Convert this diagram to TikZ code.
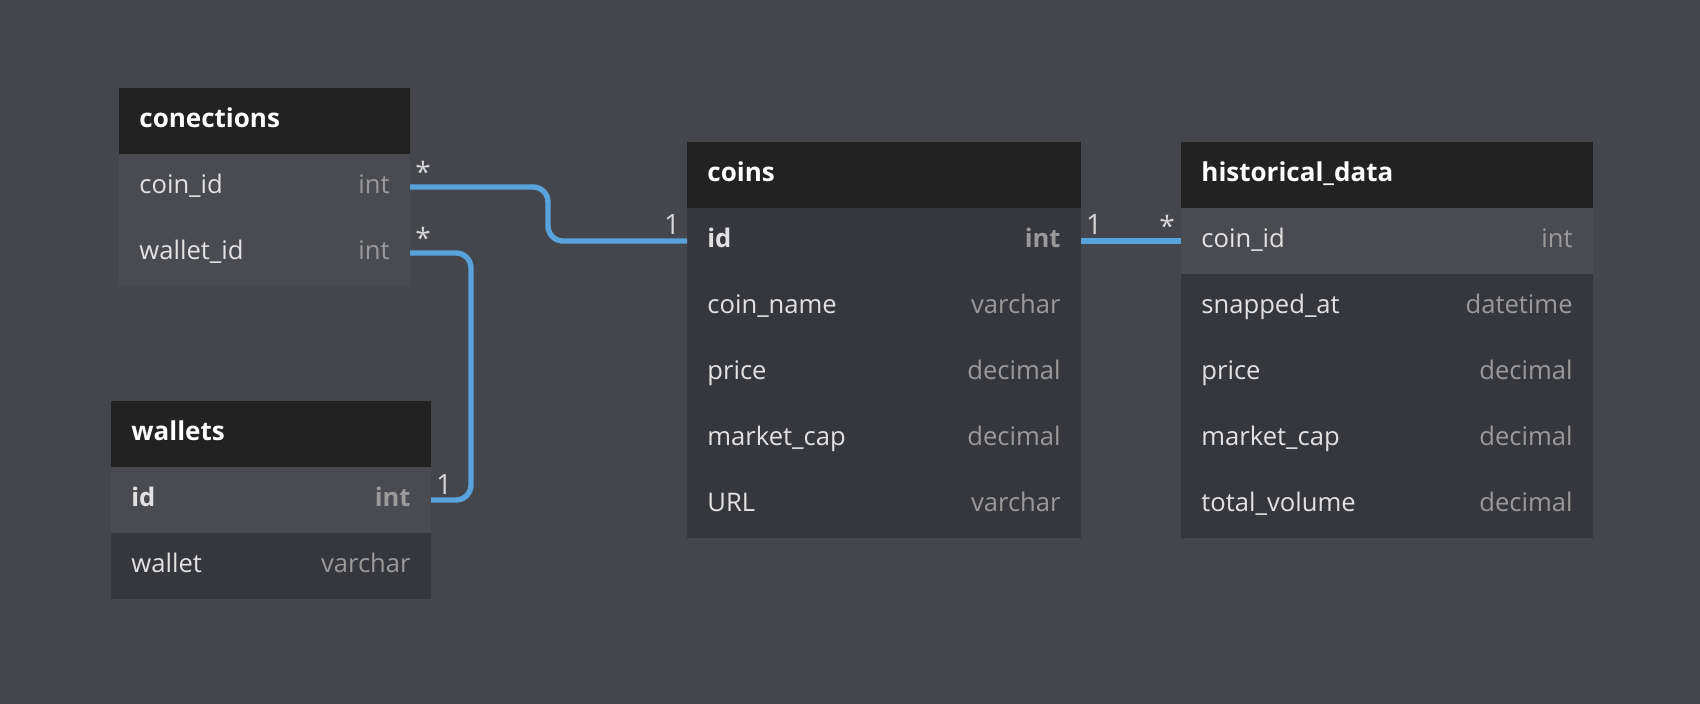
\documentclass[tikz,border=0pt]{standalone}
\usepackage{fontspec}
\setmainfont{Open Sans}
\usetikzlibrary{positioning}

\definecolor{canvas}{HTML}{45464C}
\definecolor{headcol}{HTML}{222222}
\definecolor{rowlight}{HTML}{4A4B51}
\definecolor{rowdark}{HTML}{36373D}
\definecolor{fieldcol}{HTML}{E2E2E2}
\definecolor{typecol}{HTML}{9A9A9A}
\definecolor{relcol}{HTML}{58A3DB}
\definecolor{cardcol}{HTML}{D6D6D6}

\tikzset{
  tblhead/.style={fill=headcol, anchor=north west, minimum height=33pt, inner sep=0pt, outer sep=0pt},
  tblrow/.style={fill=rowdark, anchor=north west, minimum height=33pt, inner sep=0pt, outer sep=0pt},
  hirow/.style={tblrow, fill=rowlight},
  headtext/.style={anchor=west, inner sep=0pt, text=white, text height=9pt, text depth=2pt, font=\fontsize{13}{15}\selectfont\bfseries},
  fname/.style={anchor=west, inner sep=0pt, text=fieldcol, text height=9pt, text depth=2pt, font=\fontsize{12.8}{15}\selectfont},
  ftype/.style={anchor=east, inner sep=0pt, text=typecol, text height=9pt, text depth=2pt, font=\fontsize{12.8}{15}\selectfont},
  keytext/.style={font=\fontsize{12.8}{15}\selectfont\bfseries},
  rel/.style={draw=relcol, line width=2.7pt, rounded corners=7.5pt},
  card/.style={anchor=south, inner sep=0pt, text=cardcol, font=\fontsize{14}{16}\selectfont}
}

\begin{document}
\begin{tikzpicture}[x=0.5pt, y=-0.5pt]
	\fill[canvas] (0,0) rectangle (1700,704);
	\useasboundingbox (0,0) rectangle (1700,704);

	% conections
	\node[tblhead, minimum width=145.5pt] (con-h) at (119,88) {};
	\node[headtext] (con-ht) at ([xshift=10pt]con-h.west) {conections};
	\node[hirow, minimum width=145.5pt] (con-1) at (119,154) {};
	\node[fname] (con-1n) at ([xshift=10pt]con-1.west) {coin\_id};
	\node[ftype] (con-1t) at ([xshift=-10pt]con-1.east) {int};
	\node[hirow, minimum width=145.5pt] (con-2) at (119,220) {};
	\node[fname] (con-2n) at ([xshift=10pt]con-2.west) {wallet\_id};
	\node[ftype] (con-2t) at ([xshift=-10pt]con-2.east) {int};

	% wallets
	\node[tblhead, minimum width=160pt] (wal-h) at (111,401) {};
	\node[headtext] (wal-ht) at ([xshift=10pt]wal-h.west) {wallets};
	\node[hirow, minimum width=160pt] (wal-1) at (111,467) {};
	\node[fname, keytext] (wal-1n) at ([xshift=10pt]wal-1.west) {id};
	\node[ftype, keytext] (wal-1t) at ([xshift=-10pt]wal-1.east) {int};
	\node[tblrow, minimum width=160pt] (wal-2) at (111,533) {};
	\node[fname] (wal-2n) at ([xshift=10pt]wal-2.west) {wallet};
	\node[ftype] (wal-2t) at ([xshift=-10pt]wal-2.east) {varchar};

	% coins
	\node[tblhead, minimum width=197pt] (coin-h) at (687,142) {};
	\node[headtext] (coin-ht) at ([xshift=10pt]coin-h.west) {coins};
	\node[tblrow, minimum width=197pt] (coin-1) at (687,208) {};
	\node[fname, keytext] (coin-1n) at ([xshift=10pt]coin-1.west) {id};
	\node[ftype, keytext] (coin-1t) at ([xshift=-10pt]coin-1.east) {int};
	\foreach \i/\f/\t in {2/coin\_name/varchar, 3/price/decimal, 4/market\_cap/decimal, 5/URL/varchar} {
		\node[tblrow, minimum width=197pt] (coin-\i) at (687,{208+66*(\i-1)}) {};
		\node[fname] (coin-\i n) at ([xshift=10pt]coin-\i.west) {\f};
		\node[ftype] (coin-\i t) at ([xshift=-10pt]coin-\i.east) {\t};
	}

	% historical_data
	\node[tblhead, minimum width=206pt] (hist-h) at (1181,142) {};
	\node[headtext] (hist-ht) at ([xshift=10pt]hist-h.west) {historical\_data};
	\node[hirow, minimum width=206pt] (hist-1) at (1181,208) {};
	\node[fname] (hist-1n) at ([xshift=10pt]hist-1.west) {coin\_id};
	\node[ftype] (hist-1t) at ([xshift=-10pt]hist-1.east) {int};
	\foreach \i/\f/\t in {2/snapped\_at/datetime, 3/price/decimal, 4/market\_cap/decimal, 5/total\_volume/decimal} {
		\node[tblrow, minimum width=206pt] (hist-\i) at (1181,{208+66*(\i-1)}) {};
		\node[fname] (hist-\i n) at ([xshift=10pt]hist-\i.west) {\f};
		\node[ftype] (hist-\i t) at ([xshift=-10pt]hist-\i.east) {\t};
	}

	% relations
	\draw[rel] (con-1.east) -- ++(138,0) |- (coin-1.west);
	\draw[rel] (con-2.east) -- ++(61,0) |- (wal-1.east);
	\draw[rel] (coin-1.east) -- (hist-1.west);

	\node[card] (c-con1) at (423,183) {*};
	\node[card] (c-con2) at (423,249) {*};
	\node[card] (c-coin1) at (672,235) {1};
	\node[card] (c-wal1) at (444,495) {1};
	\node[card] (c-coin2) at (1094,235) {1};
	\node[card] (c-hist1) at (1167,237) {*};
\end{tikzpicture}
\end{document}
